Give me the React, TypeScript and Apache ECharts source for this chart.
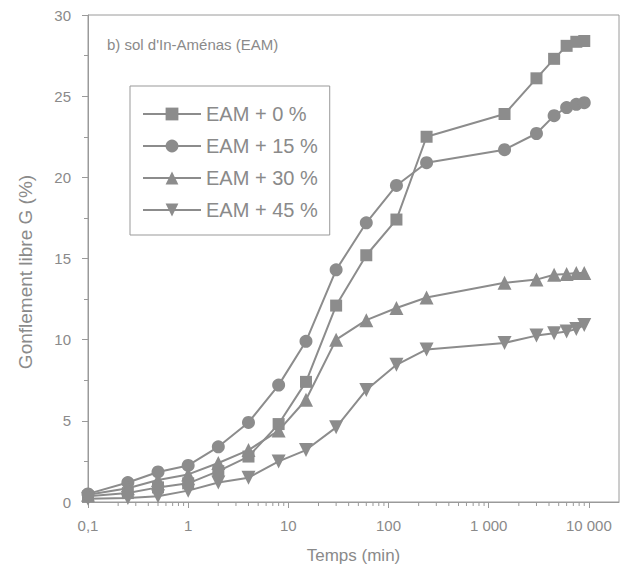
import React, { useEffect, useRef } from "react";
import * as echarts from "echarts";

const times = [0.1, 0.25, 0.5, 1, 2, 4, 8, 15, 30, 60, 120, 240, 1440, 3000, 4500, 6000, 7500, 9000];
const eam0 = [0.35, 0.55, 0.9, 1.15, 1.9, 2.8, 4.8, 7.4, 12.1, 15.2, 17.4, 22.5, 23.9, 26.1, 27.3, 28.1, 28.35, 28.4];
const eam15 = [0.5, 1.2, 1.85, 2.25, 3.4, 4.9, 7.2, 9.9, 14.3, 17.2, 19.5, 20.9, 21.7, 22.7, 23.8, 24.3, 24.5, 24.6];
const eam30 = [0.45, 0.85, 1.36, 1.7, 2.4, 3.2, 4.4, 6.3, 10.0, 11.2, 11.95, 12.6, 13.5, 13.7, 14.0, 14.05, 14.1, 14.1];
const eam45 = [0.2, 0.25, 0.35, 0.7, 1.2, 1.5, 2.5, 3.2, 4.6, 6.9, 8.45, 9.4, 9.8, 10.25, 10.4, 10.5, 10.65, 10.9];

const seriesNames = ["EAM + 0 %", "EAM + 15 %", "EAM + 30 %", "EAM + 45 %"];
const xTickValues = [0.1, 1, 10, 100, 1000, 10000];
const xTickLabels = ["0,1", "1", "10", "100", "1 000", "10 000"];

const GREY = "#8c8c8c";
const TEXT = "#8a8a8a";
const AXIS = "#9a9a9a";
const FONT = "Liberation Sans, Arial, sans-serif";

export default function App() {
  const ref = useRef<HTMLDivElement>(null);
  useEffect(() => {
    document.body.style.margin = "0";
    const chart = echarts.init(ref.current!, null, { renderer: "svg" });
    const mk = (vals: number[]) => times.map((t, i) => [t, vals[i]]);
    const minorTicks: number[][] = [];
    for (let e = -1; e <= 4; e++) {
      for (let k = 2; k <= 9; k++) {
        const v = k * Math.pow(10, e);
        if (v < 20000) minorTicks.push([v]);
      }
    }
    const common = {
      type: "line",
      lineStyle: { color: GREY, width: 2 },
      itemStyle: { color: GREY },
      symbolKeepAspect: true,
    };
    chart.setOption({
      animation: false,
      backgroundColor: "#fff",
      textStyle: { fontFamily: FONT },
      grid: {
        left: 88,
        right: 2,
        top: 15,
        bottom: 68,
        show: true,
        borderColor: AXIS,
        borderWidth: 1,
        backgroundColor: "transparent",
      },
      legend: {
        orient: "vertical",
        left: 130,
        top: 86,
        data: seriesNames,
        itemWidth: 58,
        itemHeight: 16,
        itemGap: 12,
        padding: [18, 12, 15, 12],
        borderColor: "#999",
        borderWidth: 1,
        textStyle: { color: TEXT, fontSize: 20, fontFamily: FONT },
      },
      xAxis: {
        type: "log",
        logBase: 10,
        min: 0.1,
        max: 20000,
        axisLine: { lineStyle: { color: AXIS } },
        axisTick: { length: 6, lineStyle: { color: AXIS } },
        splitLine: { show: false },
        axisLabel: {
          color: TEXT,
          fontSize: 15,
          margin: 16,
          showMaxLabel: false,
          formatter: (v: number) => {
            const i = xTickValues.findIndex((t) => Math.abs(Math.log10(t) - Math.log10(v)) < 1e-6);
            return i >= 0 ? xTickLabels[i] : "";
          },
        },
        name: "Temps (min)",
        nameLocation: "middle",
        nameGap: 45,
        nameTextStyle: { color: TEXT, fontSize: 17 },
      },
      yAxis: {
        type: "value",
        min: 0,
        max: 30,
        interval: 5,
        axisLine: { show: true, lineStyle: { color: AXIS } },
        axisTick: { show: true, length: 6, lineStyle: { color: AXIS } },
        minorTick: { show: true, splitNumber: 2, length: 4, lineStyle: { color: AXIS } },
        splitLine: { show: false },
        axisLabel: { color: TEXT, fontSize: 15, margin: 17 },
      },
      graphic: [
        {
          type: "text",
          left: 107,
          top: 37,
          style: { text: "b) sol d'In-Aménas (EAM)", fill: TEXT, fontSize: 15, fontFamily: FONT },
        },
        {
          type: "text",
          x: 25,
          y: 272,
          rotation: Math.PI / 2,
          style: {
            text: "Gonflement libre G (%)",
            fill: TEXT,
            fontSize: 19,
            fontFamily: FONT,
            align: "center",
            verticalAlign: "middle",
          },
        },
      ],
      series: [
        { ...common, name: seriesNames[0], data: mk(eam0), symbol: "rect", symbolSize: 12 },
        { ...common, name: seriesNames[1], data: mk(eam15), symbol: "circle", symbolSize: 13 },
        { ...common, name: seriesNames[2], data: mk(eam30), symbol: "triangle", symbolSize: 14 },
        {
          ...common,
          name: seriesNames[3],
          data: mk(eam45),
          symbol: "triangle",
          symbolSize: 14,
          symbolRotate: 180,
        },
        {
          type: "custom",
          name: "minor",
          silent: true,
          clip: false,
          data: minorTicks,
          encode: { x: 0 },
          renderItem: (params: any, api: any) => {
            const p = api.coord([api.value(0), 0]);
            return {
              type: "line",
              shape: { x1: p[0], y1: p[1], x2: p[0], y2: p[1] + 4 },
              style: { stroke: AXIS, lineWidth: 1 },
            };
          },
        },
      ],
    });
    return () => chart.dispose();
  }, []);
  return <div ref={ref} style={{ width: 621, height: 570, position: "absolute", left: 0, top: 0 }} />;
}
